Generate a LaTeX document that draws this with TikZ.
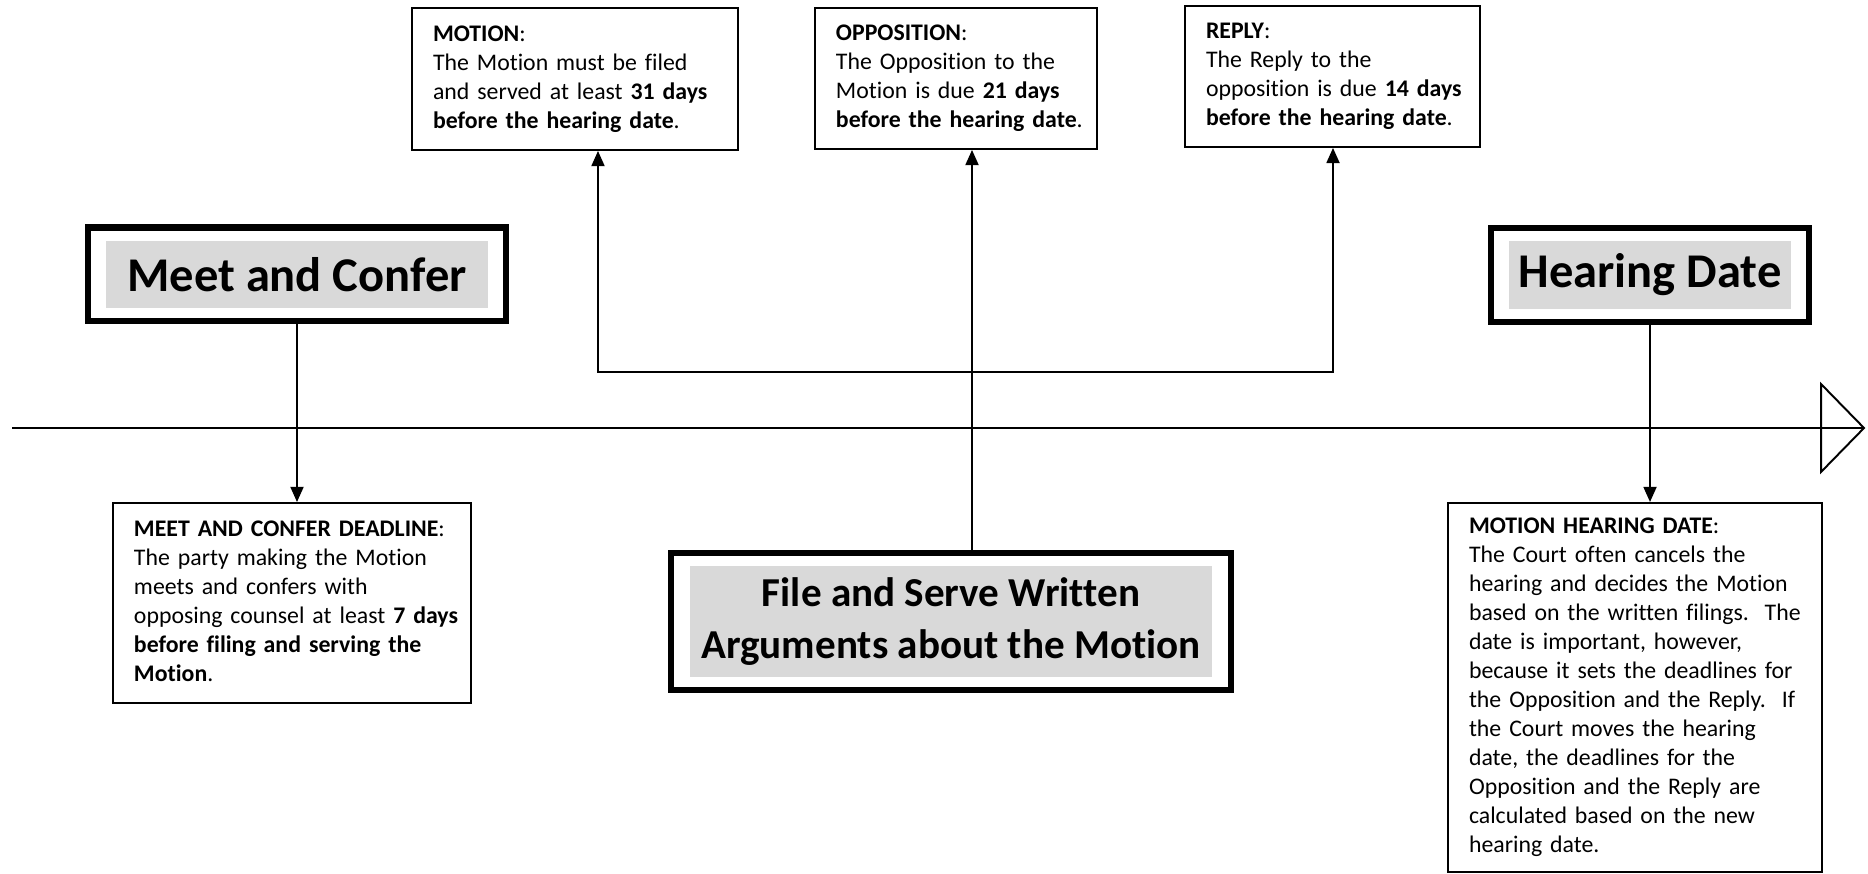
\documentclass[tikz,border=0pt]{standalone}
\usepackage{fontspec}
\setmainfont{Carlito}[Ligatures=NoCommon]
\usepackage{tikz}
\usetikzlibrary{arrows.meta}
\usetikzlibrary{fit}
\definecolor{tgray}  {RGB}{217,217,217}
\definecolor{black}  {RGB}{0,0,0}
\tikzset{
    infobox/.style={draw=black, line width=0.9pt, fill=white, align=left,
             inner xsep=9.7pt, inner ysep=0pt, font=\fontsize{11}{13.4}\selectfont
    },
    titlebox/.style={fill=tgray, inner sep=0pt, align=center,
             font=\fontsize{22.4}{27}\selectfont\bfseries
    },
    framebox/.style={draw=black, line width=2.8pt, inner xsep=8.3pt, inner ysep=6pt},
    link/.style={draw=black, line width=0.9pt},
    linkto/.style={link, -{Triangle[width=6pt,length=7pt]}},
    linkboth/.style={link, {Triangle[width=6pt,length=7pt]}-{Triangle[width=6pt,length=7pt]}}
  }
\newcommand{\boxlines}[1]{\begin{tabular}{@{}l@{}}#1\end{tabular}}

\begin{document}
\begin{tikzpicture}[x=0.462pt, y=-0.462pt]
  \useasboundingbox (0,0) rectangle (1868,874);
  %Filing boxes on top
      \node[infobox, minimum width=150.6pt, minimum height=65.6pt, text width=131.2pt] (motion) at (575,79)
        {\boxlines{\textbf{MOTION}:\\ The Motion must be filed\\ and served at least \textbf{31 days}\\ \textbf{before the hearing date}.}};
      \node[infobox, minimum width=130.3pt, minimum height=65.1pt, text width=110.9pt] (oppo) at (956,78.5)
        {\boxlines{\textbf{OPPOSITION}:\\ The Opposition to the\\ Motion is due \textbf{21 days}\\ \textbf{before the hearing date}.}};
      \node[infobox, minimum width=136.3pt, minimum height=65.1pt, text width=116.9pt] (reply) at (1332.5,76.5)
        {\boxlines{\textbf{REPLY}:\\ The Reply to the\\ opposition is due \textbf{14 days}\\ \textbf{before the hearing date}.}};
  %Titles
      \node[titlebox, minimum width=176.5pt, minimum height=31pt] (meet) at (297,274.5) {Meet and Confer};
      \node[framebox, fit=(meet)] (meetframe) {};
      \node[titlebox, minimum width=130.3pt, minimum height=31.4pt] (hearing) at (1650,275) {Hearing Date};
      \node[framebox, fit=(hearing)] (hearframe) {};
      \node[titlebox, minimum width=241.5pt, minimum height=51.3pt,
            font=\fontsize{19}{24}\selectfont\bfseries] (file) at (951,621.5)
        {File and Serve Written\\ Arguments about the Motion};
      \node[framebox, fit=(file)] (fileframe) {};
  %Deadline boxes below
      \node[infobox, minimum width=165.4pt, minimum height=92.4pt, text width=146pt] (meetdl) at (292,603)
        {\boxlines{\textbf{MEET AND CONFER DEADLINE}:\\ The party making the Motion\\ meets and confers with\\
         opposing counsel at least \textbf{7 days}\\ \textbf{before filing and serving the}\\ \textbf{Motion}.}};
      \node[infobox, minimum width=172.8pt, minimum height=170.5pt, text width=153.4pt] (hearingdl) at (1635,687.5)
        {\boxlines{\textbf{MOTION HEARING DATE}:\\ The Court often cancels the\\ hearing and decides the Motion\\
         based on the written filings.\ \ The\\ date is important, however,\\ because it sets the deadlines for\\
         the Opposition and the Reply.\ \ If\\ the Court moves the hearing\\ date, the deadlines for the\\
         Opposition and the Reply are\\ calculated based on the new\\ hearing date.}};
  %Time line
      \coordinate (tlstart) at (12,428);
      \coordinate (tlend) at (1864,428);
      \draw[link] (tlstart) -- (tlend);
      \draw[link] (1821,384) -- (tlend) -- (1821,472) -- cycle;
  %Meet and confer to its deadline
      \draw[linkto] (meetframe.south) -- (meetframe.south |- meetdl.north);
  %Hearing date to its box
      \draw[linkto] (hearframe.south) -- (hearframe.south |- hearingdl.north);
  %Written arguments
      \coordinate (brM) at (598,372);
      \coordinate (brO) at (972,372);
      \coordinate (brR) at (1333,372);
      \draw[linkboth] (brM |- motion.south) -- (brM) -- (brR) -- (brR |- reply.south);
      \draw[linkto] (brO |- fileframe.north) -- (brO |- oppo.south);
\end{tikzpicture}
\end{document}
